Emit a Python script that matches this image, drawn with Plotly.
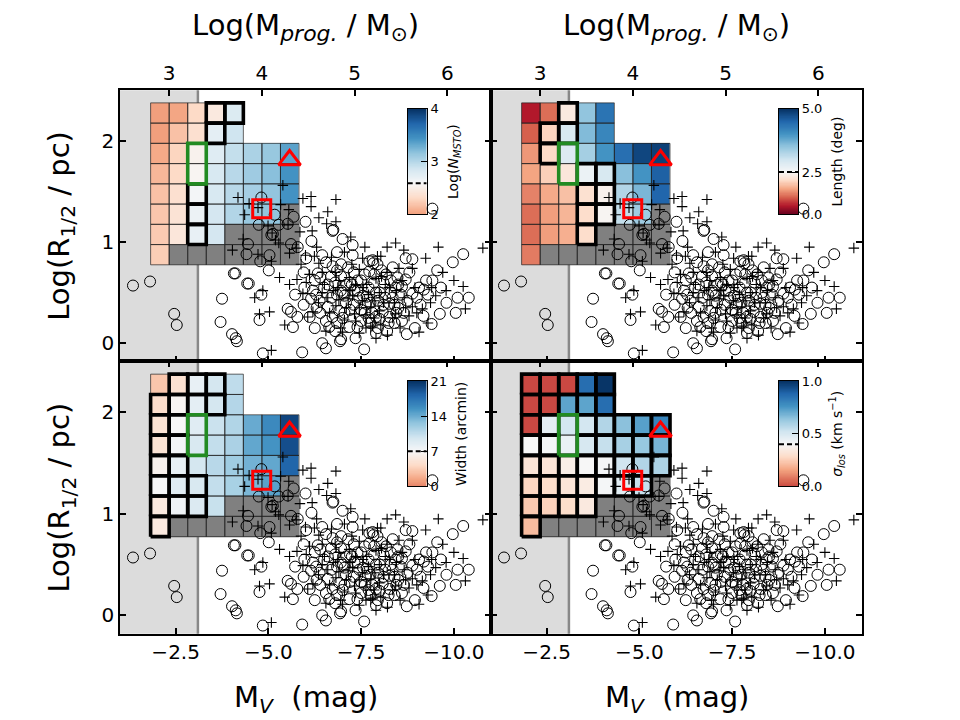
import plotly.graph_objects as go

N = None
# ---------------- grid definition (log M_prog x log R_1/2) ----------------
MASS_CENTERS = [2.9, 3.1, 3.3, 3.5, 3.7, 3.9, 4.1, 4.3]
LOGR_CENTERS = [0.875, 1.075, 1.275, 1.475, 1.675, 1.875, 2.075, 2.275]
MASS_HALF = 0.1
LOGR_HALF = 0.1

# axes
MV_RANGE = [-1.0, -11.0]
LOGR_RANGE = [-0.18, 2.5]
MV_TICKS = [-2.5, -5.0, -7.5, -10.0]
MV_TICKTEXT = ["\u22122.5", "\u22125.0", "\u22127.5", "\u221210.0"]
MASS_TICKS = [3, 4, 5, 6]
LOGR_TICKS = [0, 1, 2]
MASS_ZERO = 2.07          # log M = MASS_ZERO - 0.4 * M_V
MV_LIMIT = -3.1           # shaded region boundary

# cells: rows from bottom (logR 0.875) to top (2.275), columns from left (logM 2.9)
GREY_CELLS = [(0, c) for c in range(1, 8)] + [(1, c) for c in range(4, 8)] + [(2, 7)]
GREEN_ROWS = [4, 5]
GREEN_COL = 2

NMSTO = [
    [2.24, N, N, N, N, N, N, N],
    [2.22, 2.42, 2.70, 2.84, N, N, N, N],
    [2.20, 2.39, 2.67, 2.84, 3.01, 3.13, 3.15, N],
    [2.17, 2.36, 2.62, 2.82, 2.98, 3.07, 3.15, 3.44],
    [2.12, 2.31, 2.56, 2.82, 2.98, 3.10, 3.18, 3.44],
    [2.05, 2.28, 2.53, 2.77, 2.93, 3.04, 3.13, 3.35],
    [2.00, 2.17, 2.36, 2.73, 2.87, N, N, N],
    [2.00, 2.03, 2.31, 2.45, 2.79, N, N, N],
]
LENGTH = [
    [1.20, N, N, N, N, N, N, N],
    [1.10, 1.45, 1.60, 2.05, N, N, N, N],
    [1.10, 1.45, 1.65, 2.05, 2.45, 3.10, 3.40, N],
    [1.25, 1.55, 1.75, 2.10, 2.40, 3.25, 3.65, 4.50],
    [1.50, 1.90, 2.20, 2.65, 2.90, 3.55, 4.00, 4.55],
    [1.40, 2.00, 2.85, 3.35, 4.00, 4.40, 4.80, 4.85],
    [1.00, 1.95, 2.90, 3.60, 4.15, N, N, N],
    [0.50, 1.10, 2.25, 3.50, 4.35, N, N, N],
]
WIDTH = [
    [5.6, N, N, N, N, N, N, N],
    [5.6, 7.6, 9.0, 10.2, N, N, N, N],
    [7.1, 8.7, 9.2, 10.4, 11.6, 13.4, 14.6, N],
    [6.4, 8.1, 9.5, 10.9, 12.0, 13.7, 14.3, 18.2],
    [5.0, 7.3, 9.2, 10.4, 11.5, 14.3, 15.4, 19.4],
    [5.0, 7.0, 8.7, 10.1, 11.2, 14.1, 16.0, 19.9],
    [4.5, 6.7, 8.4, 9.5, 11.1, N, N, N],
    [3.1, 4.8, 8.1, 9.5, 10.6, N, N, N],
]
SIGMA = [
    [0.21, N, N, N, N, N, N, N],
    [0.24, 0.26, 0.29, 0.34, N, N, N, N],
    [0.27, 0.29, 0.32, 0.35, 0.41, 0.47, 0.54, N],
    [0.32, 0.32, 0.36, 0.40, 0.41, 0.52, 0.58, 0.59],
    [0.40, 0.41, 0.44, 0.50, 0.54, 0.60, 0.63, 0.68],
    [0.00, 0.46, 0.51, 0.51, 0.58, 0.65, 0.73, 0.80],
    [0.00, 0.00, 0.72, 0.72, 0.86, N, N, N],
    [0.00, 0.00, 0.00, 0.86, 0.99, N, N, N],
]

BOX_NMSTO = [(7, 3), (7, 4), (6, 3), (3, 2), (2, 2), (1, 2)]
BOX_LENGTH = [(7, 2), (6, 1), (6, 2), (5, 1), (4, 3), (4, 4), (3, 3), (3, 4),
              (2, 3), (2, 4), (1, 3)]
BOX_WIDTH = [(7, 1), (7, 2), (7, 3), (6, 0), (6, 1), (6, 2), (6, 3), (5, 0), (5, 1),
             (4, 0), (4, 1), (3, 0), (3, 1), (2, 0), (2, 1), (2, 2), (1, 0), (1, 1),
             (1, 2), (0, 0)]
BOX_SIGMA = [(r, c) for r in range(8) for c in range(8)
             if SIGMA[r][c] is not None and not (c == GREEN_COL and r in GREEN_ROWS)]

# ---------------- known satellites (M_V, log R_1/2) ----------------
CIRC_MV = [-1.35, -1.81, -2.46, -2.53, -4.07, -4.11, -4.43, -3.75, -3.71, -4.02, -4.15, -4.12,
           -5.01, -4.47, -5.72, -4.81, -4.76, -5.52, -5.61, -5.66, -5.78, -4.85, -5.91, -6.45,
           -6.55, -5.17, -4.74, -5.28, -5.68, -5.08, -4.45, -4.41, -5.03, -5.61, -4.78, -4.81,
           -5.52, -5.12, -5.79, -6.00, -6.75, -6.16, -6.45, -9.42, -7.00, -7.27, -6.73, -9.97,
           -10.25, -8.70, -8.88, -7.72, -7.83, -9.42, -9.62, -9.40, -8.73, -7.58, -6.93, -8.24,
           -9.06, -9.19, -9.18, -8.88, -6.73, -6.96, -6.69, -6.96, -7.27, -7.81, -7.94, -7.72,
           -8.17, -8.48, -8.43, -8.57, -8.26, -8.08, -7.90, -7.63, -7.45, -7.32, -7.09, -6.91,
           -6.73, -6.38, -6.20, -6.11, -6.64, -7.18, -7.40, -8.26, -8.70, -8.75, -6.02, -6.33,
           -5.97, -6.29, -6.96, -7.10, -7.50, -7.70, -8.00, -8.10, -7.30, -6.85, -7.60, -7.95,
           -8.35, -6.50, -6.60, -7.00, -7.75, -8.50, -6.25, -5.95, -6.85,
           -6.55, -6.85, -7.15, -7.40, -7.60, -7.85, -8.05, -8.30, -8.60, -8.80, -9.00, -9.25,
           -9.55, -9.80, -10.05, -10.40, -6.40, -6.70, -6.95, -7.20, -7.50, -7.80, -8.15, -8.40,
           -8.60, -8.95, -7.35, -7.90, -6.80, -6.25, -5.95, -7.05, -7.65, -8.45, -7.25, -8.00,
           -6.40, -6.60, -6.80, -7.00, -7.20, -7.40, -7.55, -7.75, -7.90, -8.10, -8.30, -8.50,
           -8.65, -6.55, -6.85, -7.05, -7.30, -7.50, -7.70, -7.95, -8.20, -8.40, -6.30, -6.15,
           -7.85, -8.35, -9.10, -9.30, -9.65, -10.10]
CIRC_LOGR = [0.57, 0.61, 0.29, 0.18, 0.69, 0.69, 0.59, 0.44, 0.21, 0.09, 0.02, 0.05,
             0.72, 0.59, 0.48, 0.48, 0.23, 0.34, 0.31, 0.16, 0.26, -0.10, -0.09, 0.00,
             -0.05, 1.27, 1.17, 1.17, 1.25, 1.07, 0.98, 0.88, 0.87, 0.98, 0.81, 1.44,
             1.18, 1.08, 0.95, 1.20, 1.12, 1.01, 0.87, 1.33, 1.03, 0.97, 1.11, 0.80,
             0.88, 0.84, 0.83, 0.81, 0.79, 0.62, 0.29, 0.19, 0.09, -0.06, 0.02, 0.20,
             0.55, 0.53, 0.27, 0.49, 0.76, 0.78, 0.66, 0.66, 0.87, 0.82, 0.78, 0.71,
             0.68, 0.65, 0.55, 0.48, 0.39, 0.31, 0.26, 0.39, 0.45, 0.52, 0.40, 0.32,
             0.26, 0.42, 0.52, 0.26, 0.16, 0.16, 0.16, 0.26, 0.63, 0.42, 0.84, 0.69,
             0.55, 0.48, 0.04, 0.58, 0.62, 0.55, 0.50, 0.60, 0.70, 0.48, 0.30, 0.42,
             0.45, 0.55, 0.36, 0.25, 0.20, 0.35, 0.62, 0.70, 0.90,
             0.80, 0.72, 0.75, 0.62, 0.68, 0.60, 0.72, 0.62, 0.56, 0.70, 0.45, 0.62,
             0.72, 0.40, 0.30, 0.45, 0.30, 0.45, 0.52, 0.33, 0.22, 0.30, 0.45, 0.38,
             0.22, 0.15, 0.05, 0.10, 0.12, 0.15, 0.38, 0.47, 0.46, 0.30, 0.58, 0.24,
             0.65, 0.58, 0.60, 0.50, 0.60, 0.52, 0.47, 0.40, 0.50, 0.38, 0.50, 0.58,
             0.30, 0.22, 0.20, 0.30, 0.38, 0.33, 0.25, 0.15, 0.12, 0.20, 0.35, 0.44,
             0.68, 0.75, 0.38, 0.48, 0.55, 0.45]
PLUS_MV = [-5.39, -4.18, -4.48, -4.72, -4.36, -4.99, -5.55, -5.53, -5.10, -4.32, -4.03, -4.72,
           -5.08, -5.19, -5.28, -5.75, -5.57, -5.93, -6.15, -6.15, -6.82, -6.36, -6.60, -6.57,
           -6.82, -6.00, -6.36, -5.30, -5.77, -5.57, -4.63, -4.85, -4.76, -5.03, -5.44, -6.06,
           -5.08, -5.93, -5.33, -6.18, -8.43, -9.58, -10.78, -7.22, -9.24, -8.88, -8.03, -9.79,
           -10.25, -10.31, -9.06, -7.81, -8.88, -9.15, -8.79, -9.37, -9.51, -7.94, -7.54, -7.45,
           -7.18, -6.87, -7.27, -7.54, -7.76, -7.99, -7.63, -7.32, -7.05, -6.82, -6.60, -6.51,
           -6.11, -6.02, -5.88, -6.24, -7.99, -8.26, -8.52, -8.66, -8.43, -8.03, -7.63, -7.76,
           -7.00, -6.20, -8.21,
           -6.70, -7.05, -7.60, -8.20, -8.65, -6.90, -7.35, -7.70, -8.10, -8.35, -8.60, -8.95,
           -9.30, -6.45, -6.65, -7.15, -7.45, -7.85, -8.20, -6.30, -5.85, -6.95, -7.45, -9.70,
           -10.00, -7.90, -7.20, -8.45, -6.80, -7.55,
           -6.45, -6.75, -7.10, -7.35, -7.65, -7.85, -8.15, -8.40, -8.70, -8.05, -6.90, -7.25,
           -6.35, -8.55, -9.00, -9.40, -6.55, -7.90]
PLUS_LOGR = [1.56, 1.44, 1.38, 1.34, 1.27, 1.16, 1.32, 1.17, 1.09, 1.03, 0.92, 0.88,
             0.81, 1.02, 0.99, 0.94, 0.89, 1.43, 1.45, 1.35, 1.42, 1.24, 1.30, 1.18,
             1.20, 0.87, 0.79, 0.65, 0.63, 0.58, 0.45, 0.52, 0.29, 0.31, 0.18, 0.26,
             -0.07, 0.49, 1.37, 1.11, 0.99, 0.95, 0.94, 1.05, 0.84, 0.74, 0.86, 0.52,
             0.56, 0.34, 0.11, 0.17, 0.36, 0.34, 0.27, 0.40, 0.47, 0.86, 0.84, 0.73,
             0.65, 0.55, 0.47, 0.42, 0.36, 0.32, 0.28, 0.29, 0.23, 0.37, 0.45, 0.58,
             0.68, 0.60, 0.78, 0.86, 0.50, 0.55, 0.74, 0.45, 0.29, 0.18, 0.15, 0.16,
             0.11, 0.31, 0.08,
             0.85, 0.90, 0.95, 0.95, 0.92, 0.62, 0.58, 0.48, 0.40, 0.25, 0.62, 0.55,
             0.20, 0.50, 0.30, 0.44, 0.35, 0.42, 0.70, 0.95, 1.10, 0.15, 0.10, 0.70,
             0.62, 0.64, 0.52, 0.52, 0.70, 0.55,
             0.70, 0.52, 0.35, 0.22, 0.58, 0.25, 0.58, 0.40, 0.35, 0.66, 0.43, 0.78,
             0.40, 0.15, 0.30, 0.55, 0.12, 0.05]
SQUARE_MV, SQUARE_LOGR = [-4.82], [1.33]
TRI_MV, TRI_LOGR = [-5.57], [1.81]

PANELS = [
    dict(values=NMSTO, boxes=BOX_NMSTO, vmin=2.0, vmax=4.0, vcen=2.59, ucen=0.295,
         pmin=0.291, pmax=1.0, ticks=[2, 3, 4], ticktext=["2", "3", "4"],
         label="Log(<i>N</i><sub><i>MSTO</i></sub>)"),
    dict(values=LENGTH, boxes=BOX_LENGTH, vmin=0.0, vmax=5.0, vcen=2.5, ucen=0.40,
         pmin=0.0, pmax=1.0, ticks=[0, 2.5, 5], ticktext=["0.0", "2.5", "5.0"],
         label="Length (deg)"),
    dict(values=WIDTH, boxes=BOX_WIDTH, vmin=0.0, vmax=21.0, vcen=7.0, ucen=1 / 3,
         pmin=0.25, pmax=1.0, ticks=[0, 7, 14, 21], ticktext=["0", "7", "14", "21"],
         label="Width (arcmin)"),
    dict(values=SIGMA, boxes=BOX_SIGMA, vmin=0.0, vmax=1.0, vcen=0.4, ucen=0.4,
         pmin=0.1667, pmax=1.0, ticks=[0, 0.5, 1.0], ticktext=["0.0", "0.5", "1.0"],
         label="<i>\u03c3</i><sub><i>los</i></sub> (km s<sup>\u22121</sup>)"),
]

RDBU = [(103, 0, 31), (178, 24, 43), (214, 96, 77), (244, 165, 130), (253, 219, 199),
        (247, 247, 247), (209, 229, 240), (146, 197, 222), (67, 147, 195), (33, 102, 172),
        (5, 48, 97)]


def rdbu(p):
    p = min(max(p, 0.0), 1.0) * 10
    i = min(int(p), 9)
    f = p - i
    a, b = RDBU[i], RDBU[i + 1]
    return "rgb(%d,%d,%d)" % tuple(round(a[k] + (b[k] - a[k]) * f) for k in range(3))


def norm_u(P, v):
    if v <= P["vcen"]:
        u = P["ucen"] * (v - P["vmin"]) / (P["vcen"] - P["vmin"])
    else:
        u = P["ucen"] + (1 - P["ucen"]) * (v - P["vcen"]) / (P["vmax"] - P["vcen"])
    return min(max(u, 0.0), 1.0)


def p_of_u(P, u):
    if u <= P["ucen"]:
        return P["pmin"] + (0.5 - P["pmin"]) * u / P["ucen"]
    return 0.5 + (P["pmax"] - 0.5) * (u - P["ucen"]) / (1 - P["ucen"])


def colorscale(P):
    us = sorted(set([k / 50 for k in range(51)] + [P["ucen"]]))
    return [[u, rdbu(p_of_u(P, u))] for u in us]


def cell_path(cells):
    xs, ys = [], []
    for r, c in cells:
        x0, x1 = MASS_CENTERS[c] - MASS_HALF, MASS_CENTERS[c] + MASS_HALF
        y0, y1 = LOGR_CENTERS[r] - LOGR_HALF, LOGR_CENTERS[r] + LOGR_HALF
        xs += [x0, x1, x1, x0, x0, None]
        ys += [y0, y0, y1, y1, y0, None]
    return xs, ys


# ---------------- layout geometry (pixels -> paper) ----------------
W, H = 960, 720
COL_X = [(120, 491), (491, 862)]
ROW_Y = [(85, 362), (362, 640)]
CB_X = [(407.7, 426.7), (779, 798)]
CB_Y = [(104, 211.7), (382, 489.7)]


def px_x(a, b):
    return [a / W, b / W]


def px_y(a, b):
    return [1 - b / H, 1 - a / H]


FONT = "DejaVu Sans"
fig = go.Figure()
layout = {}
shapes = []

for i, P in enumerate(PANELS):
    row, col = divmod(i, 2)
    xm_n, xv_n, y_n = 2 * i + 1, 2 * i + 2, i + 1
    xm = "x" if xm_n == 1 else "x%d" % xm_n
    xv = "x%d" % xv_n
    yy = "y" if y_n == 1 else "y%d" % y_n
    cs = colorscale(P)

    z = [[norm_u(P, v) if v is not None else None for v in rv] for rv in P["values"]]
    fig.add_trace(go.Heatmap(x=MASS_CENTERS, y=LOGR_CENTERS, z=z, zmin=0, zmax=1,
                             colorscale=cs, showscale=False, hoverinfo="skip",
                             xaxis=xm, yaxis=yy))
    zg = [[1 if (r, c) in GREY_CELLS else None for c in range(8)] for r in range(8)]
    fig.add_trace(go.Heatmap(x=MASS_CENTERS, y=LOGR_CENTERS, z=zg, zmin=0, zmax=1,
                             colorscale=[[0, "#808080"], [1, "#808080"]], showscale=False,
                             hoverinfo="skip", xaxis=xm, yaxis=yy))
    filled = [(r, c) for r in range(8) for c in range(8)
              if P["values"][r][c] is not None or (r, c) in GREY_CELLS]
    ex, ey = cell_path(filled)
    fig.add_trace(go.Scatter(x=ex, y=ey, mode="lines", line=dict(color="#222222", width=0.7),
                             hoverinfo="skip", showlegend=False, xaxis=xm, yaxis=yy))
    bx, by = cell_path(P["boxes"])
    fig.add_trace(go.Scatter(x=bx, y=by, mode="lines", line=dict(color="black", width=3.6),
                             hoverinfo="skip", showlegend=False, xaxis=xm, yaxis=yy))
    gx0 = MASS_CENTERS[GREEN_COL] - MASS_HALF
    gx1 = MASS_CENTERS[GREEN_COL] + MASS_HALF
    gy0 = LOGR_CENTERS[GREEN_ROWS[0]] - LOGR_HALF
    gy1 = LOGR_CENTERS[GREEN_ROWS[-1]] + LOGR_HALF
    fig.add_trace(go.Scatter(x=[gx0, gx1, gx1, gx0, gx0], y=[gy0, gy0, gy1, gy1, gy0],
                             mode="lines", line=dict(color="forestgreen", width=3.6),
                             hoverinfo="skip", showlegend=False, xaxis=xm, yaxis=yy))

    # overlay (M_V axis) traces
    fig.add_trace(go.Scatter(x=CIRC_MV, y=CIRC_LOGR, mode="markers",
                             marker=dict(symbol="circle-open", size=11, color="black",
                                         line=dict(width=1)),
                             hoverinfo="skip", showlegend=False, xaxis=xv, yaxis=yy))
    fig.add_trace(go.Scatter(x=PLUS_MV, y=PLUS_LOGR, mode="markers",
                             marker=dict(symbol="cross-thin-open", size=7.5, color="black",
                                         line=dict(width=1.1, color="black")),
                             hoverinfo="skip", showlegend=False, xaxis=xv, yaxis=yy))
    fig.add_trace(go.Scatter(x=SQUARE_MV, y=SQUARE_LOGR, mode="markers",
                             marker=dict(symbol="square-open", size=18, color="red",
                                         line=dict(width=3, color="red")),
                             hoverinfo="skip", showlegend=False, xaxis=xv, yaxis=yy))
    fig.add_trace(go.Scatter(x=TRI_MV, y=TRI_LOGR, mode="markers",
                             marker=dict(symbol="triangle-up-open", size=19, color="red",
                                         line=dict(width=3, color="red")),
                             hoverinfo="skip", showlegend=False, xaxis=xv, yaxis=yy))

    tick_common = dict(ticks="inside", ticklen=6, tickwidth=1.5, tickcolor="black",
                       showline=True, linecolor="black", linewidth=1.5, showgrid=False,
                       zeroline=False, tickfont=dict(size=20, color="black", family=FONT))
    layout["xaxis" if xm_n == 1 else "xaxis%d" % xm_n] = dict(
        domain=px_x(*COL_X[col]), anchor=yy, side="top",
        range=[MASS_ZERO - 0.4 * MV_RANGE[0], MASS_ZERO - 0.4 * MV_RANGE[1]],
        tickvals=MASS_TICKS, showticklabels=(row == 0), **tick_common)
    layout["xaxis%d" % xv_n] = dict(
        overlaying=xm, anchor=yy, side="bottom", range=MV_RANGE,
        tickvals=MV_TICKS, ticktext=MV_TICKTEXT, showticklabels=(row == 1), **tick_common)
    layout["yaxis" if y_n == 1 else "yaxis%d" % y_n] = dict(
        domain=px_y(*ROW_Y[row]), anchor=xm, range=LOGR_RANGE, tickvals=LOGR_TICKS,
        mirror="ticks", showticklabels=(col == 0), **tick_common)

    # shaded region
    shapes.append(dict(type="rect", xref=xv, yref=yy + " domain", x0=MV_RANGE[0], x1=MV_LIMIT,
                       y0=0, y1=1, fillcolor="#dcdcdc", line=dict(width=0), layer="below"))
    shapes.append(dict(type="line", xref=xv, yref=yy + " domain", x0=MV_LIMIT, x1=MV_LIMIT,
                       y0=0, y1=1, line=dict(color="#888888", width=2.5), layer="below"))

    # colorbar as small axes
    cxn, cyn = 9 + i, 5 + i
    cys = [k / 200 for k in range(201)]
    fig.add_trace(go.Heatmap(x=[0.5], y=cys, z=[[v] for v in cys], zmin=0, zmax=1,
                             colorscale=cs, showscale=False, hoverinfo="skip",
                             xaxis="x%d" % cxn, yaxis="y%d" % cyn))
    fig.add_trace(go.Scatter(x=[0, 1], y=[P["ucen"], P["ucen"]], mode="lines",
                             line=dict(color="black", width=2, dash="5px,3px"),
                             hoverinfo="skip", showlegend=False,
                             xaxis="x%d" % cxn, yaxis="y%d" % cyn))
    layout["xaxis%d" % cxn] = dict(domain=px_x(*CB_X[col]), anchor="y%d" % cyn, range=[0, 1],
                                   showticklabels=False, ticks="", showline=True, mirror=True,
                                   linecolor="black", linewidth=1.2, showgrid=False,
                                   zeroline=False)
    layout["yaxis%d" % cyn] = dict(domain=px_y(*CB_Y[row]), anchor="x%d" % cxn, side="right",
                                   range=[0, 1], tickvals=[norm_u(P, t) for t in P["ticks"]],
                                   ticktext=P["ticktext"], ticks="inside", ticklen=6,
                                   tickwidth=1.2, tickcolor="black", showline=True, mirror=True,
                                   linecolor="black", linewidth=1.2, showgrid=False,
                                   zeroline=False,
                                   tickfont=dict(size=13, color="black", family=FONT),
                                   title=dict(text=P["label"], standoff=10,
                                              font=dict(size=14, color="black", family=FONT)))

TOP_TITLE = ("Log(M<sub><span style=\"font-size:22px\"><i>prog.</i></span></sub>"
             "\u00a0/ M<sub>\u2299</sub>)")
annotations = []
for col in range(2):
    cx = (COL_X[col][0] + COL_X[col][1]) / 2 / W
    annotations.append(dict(text=TOP_TITLE,
                            x=cx, y=1 - 20 / H, xref="paper", yref="paper", showarrow=False,
                            xanchor="center", yanchor="middle",
                            font=dict(size=29, color="black", family=FONT)))
    annotations.append(dict(text="M<sub><i>V</i></sub>\u00a0\u00a0(mag)",
                            x=cx, y=1 - 707 / H, xref="paper", yref="paper", showarrow=False,
                            xanchor="center", yanchor="middle",
                            font=dict(size=29, color="black", family=FONT)))
for row in range(2):
    cy = 1 - (ROW_Y[row][0] + ROW_Y[row][1]) / 2 / H
    annotations.append(dict(text="Log(R<sub>1/2</sub> / pc)", x=61 / W, y=cy, xref="paper",
                            yref="paper", showarrow=False, textangle=-90,
                            xanchor="center", yanchor="middle",
                            font=dict(size=29, color="black", family=FONT)))

fig.update_layout(width=W, height=H, margin=dict(l=0, r=0, t=0, b=0),
                  paper_bgcolor="white", plot_bgcolor="rgba(0,0,0,0)",
                  font=dict(family=FONT, color="black"), showlegend=False,
                  shapes=shapes, annotations=annotations, **layout)
fig.write_html("out.html")
